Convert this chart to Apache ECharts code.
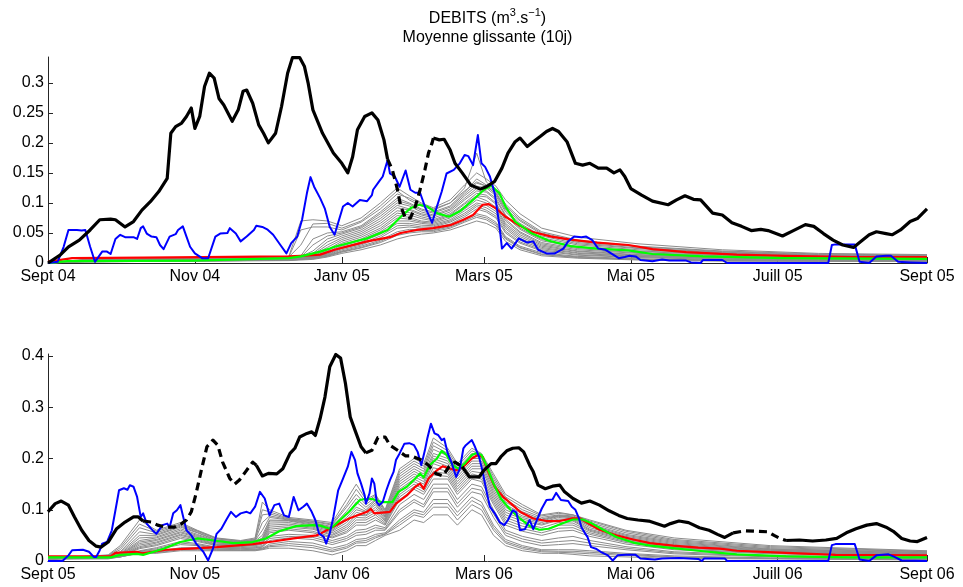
<!DOCTYPE html>
<html>
<head>
<meta charset="utf-8">
<script src="https://cdn.jsdelivr.net/npm/echarts@6/dist/echarts.min.js"></script>
<style>
  html, body { margin: 0; padding: 0; background: #ffffff; }
  #chart { width: 963px; height: 587px; }
</style>
</head>
<body>
<div id="chart"></div>
<script>
// ---- Axis ticks (days since 1 September) ----
const monthDays = [0, 61, 122, 181, 242, 303, 365];
const monthLabelsA = ['Sept 04', 'Nov 04', 'Janv 05', 'Mars 05', 'Mai 05', 'Juill 05', 'Sept 05'];
const monthLabelsB = ['Sept 05', 'Nov 05', 'Janv 06', 'Mars 06', 'Mai 06', 'Juill 06', 'Sept 06'];
const yTicksA = [0, 0.05, 0.1, 0.15, 0.2, 0.25, 0.3];
const yTicksB = [0, 0.1, 0.2, 0.3, 0.4];
const yMaxA = 0.343;
const yMaxB = 0.404;

// ---- 2004-2005: observed discharge [day, m3/s] ----
const obsA = [[0,0],[5,0.013],[8.5,0.027],[13,0.038],[17.5,0.055],[21.5,0.072],[26,0.073],[28,0.072],[32,0.06],[35.5,0.069],[39,0.088],[42.5,0.102],[46,0.119],[49.5,0.141],[51,0.216],[53,0.227],[55.5,0.233],[57.5,0.244],[59.5,0.258],[61,0.224],[63,0.244],[65,0.294],[67,0.316],[69,0.308],[71,0.274],[73,0.263],[76.5,0.236],[79,0.255],[81,0.286],[82.5,0.288],[85,0.266],[87.5,0.23],[89.5,0.216],[91.5,0.2],[94.5,0.216],[97,0.261],[99.5,0.316],[101.5,0.342],[104.5,0.342],[106.5,0.327],[108,0.3],[110,0.255],[114,0.216],[118.5,0.183],[122,0.166],[124.5,0.15],[126.5,0.177],[128.5,0.222],[131.5,0.244],[134.5,0.25],[137,0.238],[139.5,0.205],[141,0.173],
  [143,0.155],[145,0.124],[146.5,0.094],[148.5,0.074],[150.5,0.075],[152.5,0.094],[154.5,0.122],[156.5,0.155],[158,0.183],[159.5,0.2],
  [160,0.208],[162.5,0.205],[164.5,0.206],[167,0.188],[169,0.166],[172,0.15],[175.5,0.13],[179.5,0.123],[182,0.127],[185.5,0.136],[188.5,0.158],[191,0.183],[194,0.202],[196,0.208],[199,0.194],[201.5,0.202],[204.5,0.211],[207,0.219],[209.5,0.224],[212,0.219],[215.5,0.202],[219,0.166],[222,0.163],[225,0.166],[228.5,0.158],[232,0.158],[235,0.15],[237.5,0.155],[239.5,0.144],[242,0.124],[246.5,0.113],[251,0.103],[257.5,0.097],[261,0.105],[264.5,0.112],[268,0.106],[271,0.105],[276,0.083],[280,0.08],[284,0.067],[288,0.061],[292,0.054],[296,0.056],[299,0.054],[305,0.045],[309.5,0.054],[314.5,0.064],[318,0.061],[322,0.049],[326,0.038],[330,0.03],[334.5,0.026],[337,0.034],[341,0.047],[344,0.052],[348,0.049],[350.5,0.047],[354,0.055],[358,0.069],[361,0.074],[365,0.09]];
// periods without measurements (drawn dashed)
const gapsA = [[141, 160]];

// ---- 2004-2005: simulation forced by observed rain ----
const simA = [[0,0],[4,0.002],[6.5,0.027],[8.5,0.055],[12,0.055],[14,0.054],[15.5,0.055],[17.5,0.027],[19.5,0.002],[22.5,0.019],[24.5,0.019],[26,0.015],[28,0.04],[30,0.047],[32,0.043],[35.5,0.043],[37,0.04],[38.5,0.058],[39.5,0.061],[41,0.049],[43,0.044],[45,0.043],[46.5,0.03],[48,0.023],[50.5,0.044],[53,0.048],[54,0.055],[56,0.061],[57.5,0.044],[59,0.027],[61,0.016],[64,0.008],[66.5,0.008],[69.5,0.044],[71.5,0.049],[74.5,0.05],[75.5,0.058],[78,0.049],[80,0.036],[82.5,0.044],[85.5,0.055],[86.5,0.062],[89,0.06],[91,0.056],[93.5,0.047],[96.5,0.03],[99,0.016],[101,0.033],[103.5,0.044],[105.5,0.072],[107.5,0.116],[109,0.143],[110.5,0.127],[113,0.108],[115,0.09],[117,0.06],[119,0.047],[122.5,0.094],[124.5,0.1],[126.5,0.094],[129.5,0.105],[132.5,0.103],[134.5,0.113],[135,0.122],[137.5,0.136],[139,0.144],[141,0.171],[142,0.149],[144,0.144],[146,0.127],[148.5,0.154],[150.5,0.122],[152.5,0.117],[154.5,0.117],[156.5,0.094],[159.5,0.067],[161.5,0.094],[163.5,0.119],[165.5,0.149],[168.5,0.155],[171,0.166],[173,0.18],[174.5,0.178],[176.5,0.163],[178.5,0.213],[180,0.166],[181.5,0.16],[183.5,0.144],[185.5,0.116],[187.5,0.061],[188.5,0.024],[190.5,0.033],[192.5,0.024],[195.5,0.041],[199,0.034],[201.5,0.036],[203.5,0.022],[207,0.016],[210.5,0.016],[214,0.024],[216,0.036],[218.5,0.044],[221.5,0.043],[223.5,0.044],[226,0.038],[228.5,0.024],[231.5,0.022],[235,0.013],[237,0.008],[239.5,0.01],[241.5,0.012],[244,0.011],[246,0.005],[251,0.003],[255,0.006],[258,0.004],[265,0.004],[267,0.001],[271,0],[272,0.005],[280,0.005],[282,0],[324,0],[325.5,0.03],[327,0.031],[335,0.031],[337,0.002],[341,0],[344,0.011],[348,0.012],[350,0.012],[353,0.002],[358,0.001],[365,0]];

// ---- 2004-2005: ensemble mean (red) and median member (green) ----
const meanA = [[0,0.002],[10,0.008],[40,0.009],[100,0.011],[105,0.012],[113,0.014],[119,0.022],[132.5,0.036],[142,0.043],[146.5,0.05],[153,0.055],[160,0.058],[167,0.063],[172.5,0.072],[176.5,0.08],[180.5,0.097],[183,0.098],[186,0.091],[190,0.077],[195.5,0.063],[201,0.052],[209,0.044],[217,0.039],[228,0.034],[241,0.03],[251,0.023],[265,0.018],[286,0.014],[306,0.012],[334,0.01],[365,0.01]];
const medA = [[0,0],[8,0.003],[60,0.004],[100,0.008],[105,0.011],[113,0.019],[117,0.024],[119,0.027],[132.5,0.041],[141,0.055],[146.5,0.077],[150.5,0.091],[154,0.097],[157.5,0.094],[161.5,0.083],[166.5,0.077],[171,0.086],[176.5,0.105],[181,0.122],[184,0.129],[187.5,0.116],[190,0.094],[194,0.069],[201,0.049],[208,0.037],[217,0.028],[228,0.024],[241,0.021],[251,0.015],[272,0.011],[306,0.008],[365,0.007]];

// ---- 2004-2005: ensemble members (gray) on a shared day grid ----
const ensDaysA = [0, 15, 60, 100, 105, 110, 116, 122, 130, 138, 145, 150, 155, 160, 167, 173, 178, 182, 186, 190, 196, 205, 220, 245, 280, 320, 365];
const ensA1 = [0, 0.006, 0.008, 0.011, 0.07, 0.072, 0.07, 0.062, 0.075, 0.1, 0.125, 0.112, 0.1, 0.092, 0.105, 0.13, 0.15, 0.14, 0.128, 0.105, 0.082, 0.058, 0.043, 0.032, 0.022, 0.016, 0.014];
const ensA2 = [0, 0.005, 0.007, 0.01, 0.055, 0.06, 0.06, 0.055, 0.068, 0.09, 0.115, 0.108, 0.098, 0.09, 0.1, 0.125, 0.183, 0.135, 0.12, 0.098, 0.075, 0.052, 0.038, 0.028, 0.02, 0.015, 0.013];
const ensA3 = [0, 0.005, 0.007, 0.009, 0.012, 0.04, 0.05, 0.052, 0.062, 0.085, 0.108, 0.1, 0.09, 0.085, 0.095, 0.118, 0.14, 0.13, 0.118, 0.09, 0.07, 0.048, 0.034, 0.025, 0.018, 0.013, 0.012];
const ensA4 = [0, 0.004, 0.006, 0.009, 0.011, 0.02, 0.04, 0.048, 0.058, 0.078, 0.1, 0.095, 0.085, 0.08, 0.09, 0.112, 0.128, 0.125, 0.112, 0.085, 0.062, 0.042, 0.03, 0.022, 0.016, 0.012, 0.011];
const ensA5 = [0, 0.004, 0.006, 0.008, 0.01, 0.014, 0.03, 0.042, 0.052, 0.07, 0.092, 0.088, 0.08, 0.075, 0.085, 0.105, 0.12, 0.118, 0.105, 0.078, 0.056, 0.037, 0.026, 0.019, 0.014, 0.011, 0.01];
const ensA6 = [0, 0.004, 0.005, 0.008, 0.009, 0.012, 0.022, 0.036, 0.046, 0.062, 0.083, 0.08, 0.074, 0.07, 0.08, 0.098, 0.112, 0.11, 0.098, 0.07, 0.05, 0.032, 0.022, 0.016, 0.012, 0.009, 0.009];
const ensA7 = [0, 0.003, 0.005, 0.007, 0.009, 0.011, 0.018, 0.03, 0.04, 0.055, 0.075, 0.073, 0.068, 0.066, 0.075, 0.09, 0.105, 0.1, 0.09, 0.063, 0.044, 0.028, 0.019, 0.013, 0.01, 0.008, 0.008];
const ensA8 = [0, 0.003, 0.005, 0.007, 0.008, 0.01, 0.015, 0.026, 0.035, 0.048, 0.066, 0.066, 0.063, 0.062, 0.07, 0.083, 0.097, 0.092, 0.082, 0.057, 0.038, 0.024, 0.016, 0.011, 0.008, 0.006, 0.006];
const ensA9 = [0, 0.003, 0.004, 0.006, 0.007, 0.009, 0.013, 0.022, 0.03, 0.042, 0.058, 0.06, 0.058, 0.058, 0.065, 0.077, 0.09, 0.085, 0.075, 0.05, 0.033, 0.02, 0.013, 0.009, 0.006, 0.005, 0.005];
const ensA10 = [0, 0.002, 0.004, 0.005, 0.006, 0.008, 0.012, 0.02, 0.028, 0.038, 0.052, 0.056, 0.055, 0.055, 0.062, 0.072, 0.082, 0.078, 0.068, 0.044, 0.028, 0.017, 0.011, 0.007, 0.005, 0.004, 0.004];
const ensA11 = [0, 0.002, 0.003, 0.005, 0.006, 0.007, 0.011, 0.018, 0.025, 0.034, 0.046, 0.05, 0.052, 0.052, 0.058, 0.068, 0.076, 0.072, 0.062, 0.04, 0.025, 0.014, 0.009, 0.006, 0.004, 0.003, 0.003];
const ensA12 = [0, 0.002, 0.003, 0.004, 0.005, 0.006, 0.01, 0.016, 0.022, 0.03, 0.04, 0.045, 0.048, 0.05, 0.055, 0.063, 0.07, 0.066, 0.058, 0.036, 0.022, 0.012, 0.008, 0.005, 0.003, 0.003, 0.003];
const ensA13 = [0, 0.005, 0.007, 0.01, 0.03, 0.065, 0.066, 0.058, 0.07, 0.095, 0.12, 0.105, 0.095, 0.088, 0.1, 0.12, 0.135, 0.128, 0.115, 0.095, 0.072, 0.05, 0.036, 0.027, 0.019, 0.014, 0.012];
const ensA14 = [0, 0.004, 0.006, 0.009, 0.01, 0.03, 0.045, 0.05, 0.06, 0.082, 0.104, 0.098, 0.088, 0.083, 0.093, 0.115, 0.133, 0.128, 0.115, 0.088, 0.066, 0.045, 0.032, 0.024, 0.017, 0.012, 0.011];
const ensA15 = [0, 0.004, 0.006, 0.008, 0.01, 0.016, 0.035, 0.045, 0.055, 0.074, 0.096, 0.09, 0.082, 0.078, 0.088, 0.108, 0.124, 0.12, 0.108, 0.08, 0.058, 0.039, 0.027, 0.02, 0.015, 0.011, 0.01];
const ensA16 = [0, 0.004, 0.005, 0.008, 0.009, 0.013, 0.026, 0.039, 0.049, 0.066, 0.087, 0.084, 0.077, 0.072, 0.082, 0.1, 0.116, 0.113, 0.1, 0.073, 0.052, 0.034, 0.024, 0.017, 0.013, 0.01, 0.009];
const ensA17 = [0, 0.003, 0.005, 0.007, 0.008, 0.011, 0.02, 0.033, 0.043, 0.058, 0.079, 0.076, 0.07, 0.068, 0.078, 0.094, 0.11, 0.104, 0.093, 0.066, 0.047, 0.03, 0.02, 0.014, 0.011, 0.008, 0.008];
const ensA18 = [0, 0.003, 0.004, 0.006, 0.007, 0.01, 0.014, 0.024, 0.032, 0.045, 0.062, 0.063, 0.06, 0.06, 0.068, 0.08, 0.094, 0.088, 0.078, 0.053, 0.035, 0.022, 0.014, 0.01, 0.007, 0.005, 0.005];
const ensA19 = [0, 0.002, 0.003, 0.005, 0.006, 0.008, 0.012, 0.019, 0.026, 0.036, 0.049, 0.053, 0.054, 0.054, 0.06, 0.07, 0.079, 0.075, 0.065, 0.042, 0.026, 0.015, 0.01, 0.006, 0.004, 0.003, 0.003];
const ensA20 = [0, 0.003, 0.004, 0.006, 0.007, 0.009, 0.016, 0.028, 0.038, 0.052, 0.07, 0.07, 0.066, 0.064, 0.072, 0.087, 0.1, 0.096, 0.086, 0.06, 0.041, 0.026, 0.017, 0.012, 0.009, 0.007, 0.007];

// ---- 2005-2006: observed discharge ----
const obsB = [[0,0.096],[3,0.112],[5.5,0.117],[8.5,0.109],[11,0.086],[14,0.06],[17,0.04],[20,0.029],[22,0.027],[25,0.037],[28.5,0.063],[32,0.076],[35.5,0.086],[37.5,0.086],[39.5,0.078],
  [43,0.076],[45.5,0.07],[49,0.066],[52.5,0.066],[55.5,0.073],[57.5,0.08],[59.5,0.096],[61.5,0.132],[64,0.184],[66,0.223],[68.5,0.236],[70.5,0.226],[72.5,0.193],[75.5,0.161],[77.5,0.15],[79.5,0.158],[82,0.174],[85,0.193],
  [86.5,0.187],[89,0.166],[91.5,0.171],[95,0.17],[97.5,0.18],[100.5,0.21],[102.5,0.22],[104.5,0.242],[107.5,0.249],[109.5,0.252],[111,0.245],[113,0.278],[115,0.32],[117,0.379],[119.5,0.403],[121.5,0.396],[123.5,0.347],[125.5,0.281],[127.5,0.255],[130,0.223],[132,0.211],
  [134.5,0.216],[137,0.241],[140,0.242],[142,0.226],[145.5,0.215],[148.5,0.205],[151,0.205],[155,0.197],[158,0.187],[161,0.171],[164,0.166],[166.5,0.184],[169,0.193],
  [172,0.184],[175,0.164],[179,0.164],[181,0.177],[184,0.19],[186,0.19],[188,0.203],[190.5,0.215],[193,0.22],[195.5,0.221],[197.5,0.213],[200,0.187],[201.5,0.174],[203.5,0.148],[206.5,0.141],[209.5,0.146],[212.5,0.148],[214.5,0.135],[218,0.122],[221.5,0.113],[225,0.117],[229,0.109],[233,0.098],[237,0.089],[240.5,0.083],[245,0.08],[249.5,0.078],[256,0.068],[258.5,0.073],[262,0.078],[266,0.075],[270.5,0.065],[274.5,0.06],[278,0.052],[281,0.046],[284.5,0.055],
  [289.5,0.059],[294.5,0.058],[299,0.057],[301.5,0.05],[304,0.044],
  [306.5,0.04],[312,0.041],[317.5,0.039],[323,0.041],[327.5,0.044],[331.5,0.055],[335.5,0.063],[340,0.07],[344,0.073],[348,0.066],[351,0.058],[354.5,0.044],[358,0.039],[361,0.038],[363,0.042],[365,0.046]];
const gapsB = [[39.5, 86.5], [132, 172], [284.5, 306.5]];

// ---- 2005-2006: simulation forced by observed rain ----
const simB = [[0,0],[6,0],[8.5,0.011],[10,0.021],[14.5,0.022],[17,0.018],[19,0.008],[20,0.008],[21.5,0.021],[22.5,0.034],[24.5,0.037],[26.5,0.06],[28,0.099],[29.5,0.138],[31.5,0.142],[33,0.139],[34,0.148],[35.5,0.145],[37,0.125],[38.5,0.086],[39.5,0.093],[41,0.073],[44,0.057],[45,0.053],[47.5,0.07],[49.5,0.073],[50.5,0.066],[52,0.093],[53.5,0.099],[55,0.109],[56,0.089],[57.5,0.06],[59.5,0.05],[61.5,0.034],[64.5,0.018],[66.5,0.001],[68.5,0.024],[70,0.053],[72,0.063],[74,0.08],[76,0.096],[78,0.086],[80,0.093],[82.5,0.096],[84,0.093],[86,0.106],[88,0.135],[90,0.122],[92,0.089],[94,0.109],[96,0.112],[98,0.089],[100,0.086],[102,0.125],[104,0.099],[106,0.106],[107.5,0.112],[109.5,0.096],[111,0.08],[112.5,0.054],[114.5,0.047],[115.5,0.034],[117,0.054],[118.5,0.086],[120.5,0.138],[122.5,0.161],[124.5,0.184],[126,0.213],[127.5,0.197],[128.5,0.171],[130,0.151],[131.5,0.128],[132,0.112],[133.5,0.132],[134.5,0.161],[135.5,0.151],[136.5,0.115],[137.5,0.109],[139,0.115],[140.5,0.138],[142,0.158],[143.5,0.174],[144.5,0.197],[146,0.21],[148,0.229],[150,0.23],[152,0.226],[153.5,0.213],[155,0.187],[156.5,0.216],[157.5,0.239],[159,0.268],[160.5,0.249],[162,0.246],[163.5,0.236],[164.5,0.239],[166,0.21],[167.5,0.193],[169.5,0.164],[171,0.18],[172.5,0.22],[173.5,0.226],[176,0.236],[177,0.226],[179,0.203],[180.5,0.174],[182,0.138],[183.5,0.106],[185.5,0.093],[187.5,0.076],[189.5,0.07],[191,0.08],[193,0.099],[194.5,0.095],[196,0.06],[198,0.062],[200,0.08],[201.5,0.062],[203,0.08],[205,0.102],[207,0.119],[209.5,0.12],[211,0.133],[213,0.119],[216,0.117],[217.5,0.106],[219,0.1],[220.5,0.083],[221.5,0.066],[223,0.054],[224,0.047],[225.5,0.027],[227.5,0.024],[229.5,0.018],[232.5,0.011],[234.5,0.001],[236.5,0.011],[240,0.012],[244,0.012],[246,0.005],[252,0.003],[255,0.005],[262,0.006],[270,0.004],[271.5,0],[272.5,0.005],[281,0.005],[282,0],[324,0],[325.5,0.031],[327,0.033],[335,0.033],[337,0.003],[341,0],[344,0.011],[349,0.013],[351.5,0.008],[354.5,0.001],[365,0]];

// ---- 2005-2006: ensemble mean (red) and median member (green) ----
const meanB = [[0,0.009],[26,0.009],[28,0.016],[37,0.018],[39,0.015],[49,0.022],[59,0.024],[70,0.027],[85,0.033],[93.5,0.038],[102,0.044],[111.5,0.05],[113,0.053],[118,0.066],[125,0.083],[132.5,0.096],[134,0.102],[135.5,0.093],[142,0.096],[144.5,0.112],[149,0.128],[152.5,0.145],[154.5,0.151],[156,0.141],[158,0.161],[161.5,0.177],[164,0.185],[167,0.18],[169.5,0.177],[172.5,0.184],[176,0.2],[178.5,0.207],[180.5,0.203],[182.5,0.177],[185.5,0.145],[189,0.125],[193,0.109],[196,0.096],[201.5,0.083],[207,0.078],[212.5,0.078],[217.5,0.083],[221,0.083],[224.5,0.073],[229,0.061],[236,0.05],[243,0.042],[250,0.035],[259.5,0.03],[270,0.026],[279,0.024],[286,0.02],[306.5,0.016],[327,0.012],[365,0.011]];
const medB = [[0,0.007],[26,0.007],[30,0.012],[37,0.014],[39.5,0.012],[48,0.024],[55,0.037],[62,0.044],[69,0.04],[77,0.035],[85,0.037],[90.5,0.044],[96,0.058],[103,0.068],[110,0.07],[113,0.069],[117,0.063],[118.5,0.068],[125,0.096],[129.5,0.119],[131.5,0.121],[134.5,0.121],[136,0.119],[138.5,0.115],[143,0.115],[145.5,0.135],[149,0.145],[152.5,0.161],[154.5,0.171],[156,0.163],[158.5,0.187],[161.5,0.2],[163.5,0.215],[165.5,0.207],[168,0.187],[170.5,0.18],[173,0.19],[176,0.207],[178,0.211],[180,0.207],[182,0.187],[185,0.151],[188,0.122],[192,0.1],[196,0.083],[200,0.068],[204,0.061],[208,0.063],[214,0.074],[218,0.081],[222,0.081],[226,0.073],[230.5,0.061],[236,0.047],[243,0.036],[250,0.03],[259.5,0.025],[270,0.02],[279,0.016],[286,0.013],[306.5,0.009],[334,0.007],[365,0.007]];

// ---- 2005-2006: ensemble members (gray) ----
const ensDaysB = [0, 25, 30, 38, 45, 55, 62, 70, 80, 86, 89, 92, 100, 110, 118, 124, 128, 132, 136, 140, 146, 152, 156, 160, 166, 170, 176, 180, 185, 190, 197, 205, 212, 218, 225, 240, 260, 300, 365];
const ensB1 = [0.004, 0.012, 0.03, 0.08, 0.06, 0.075, 0.06, 0.045, 0.04, 0.045, 0.115, 0.1, 0.085, 0.08, 0.075, 0.12, 0.15, 0.12, 0.13, 0.1, 0.18, 0.2, 0.19, 0.24, 0.22, 0.19, 0.22, 0.21, 0.17, 0.13, 0.11, 0.09, 0.095, 0.09, 0.08, 0.06, 0.045, 0.03, 0.02];
const ensB2 = [0.004, 0.011, 0.022, 0.065, 0.055, 0.07, 0.058, 0.043, 0.038, 0.042, 0.09, 0.092, 0.082, 0.077, 0.07, 0.105, 0.13, 0.11, 0.125, 0.095, 0.17, 0.19, 0.18, 0.225, 0.21, 0.18, 0.21, 0.205, 0.16, 0.12, 0.1, 0.085, 0.09, 0.088, 0.075, 0.055, 0.04, 0.026, 0.018];
const ensB3 = [0.004, 0.01, 0.016, 0.05, 0.05, 0.066, 0.055, 0.04, 0.036, 0.04, 0.06, 0.085, 0.08, 0.074, 0.065, 0.09, 0.115, 0.1, 0.118, 0.09, 0.16, 0.18, 0.17, 0.21, 0.2, 0.17, 0.2, 0.2, 0.15, 0.11, 0.092, 0.08, 0.088, 0.085, 0.07, 0.05, 0.036, 0.023, 0.016];
const ensB4 = [0.004, 0.01, 0.013, 0.04, 0.045, 0.06, 0.05, 0.038, 0.034, 0.038, 0.045, 0.078, 0.078, 0.07, 0.06, 0.08, 0.1, 0.095, 0.11, 0.085, 0.15, 0.17, 0.16, 0.2, 0.19, 0.16, 0.19, 0.19, 0.14, 0.1, 0.085, 0.075, 0.085, 0.082, 0.065, 0.046, 0.032, 0.021, 0.014];
const ensB5 = [0.004, 0.009, 0.012, 0.034, 0.04, 0.055, 0.046, 0.035, 0.032, 0.035, 0.04, 0.07, 0.072, 0.066, 0.055, 0.07, 0.09, 0.088, 0.1, 0.08, 0.14, 0.16, 0.15, 0.19, 0.18, 0.15, 0.18, 0.18, 0.13, 0.09, 0.078, 0.07, 0.08, 0.078, 0.06, 0.042, 0.029, 0.019, 0.012];
const ensB6 = [0.004, 0.009, 0.011, 0.028, 0.035, 0.05, 0.042, 0.032, 0.03, 0.032, 0.036, 0.062, 0.066, 0.062, 0.05, 0.062, 0.08, 0.08, 0.09, 0.075, 0.13, 0.15, 0.14, 0.175, 0.17, 0.14, 0.17, 0.165, 0.12, 0.08, 0.068, 0.06, 0.07, 0.07, 0.055, 0.038, 0.026, 0.017, 0.011];
const ensB7 = [0.004, 0.008, 0.01, 0.024, 0.03, 0.044, 0.038, 0.03, 0.028, 0.03, 0.033, 0.055, 0.06, 0.055, 0.045, 0.055, 0.07, 0.07, 0.08, 0.07, 0.12, 0.14, 0.13, 0.16, 0.16, 0.13, 0.16, 0.155, 0.11, 0.07, 0.058, 0.05, 0.058, 0.06, 0.048, 0.033, 0.022, 0.014, 0.009];
const ensB8 = [0.004, 0.008, 0.009, 0.02, 0.026, 0.038, 0.034, 0.027, 0.026, 0.028, 0.03, 0.048, 0.052, 0.05, 0.04, 0.048, 0.06, 0.062, 0.07, 0.065, 0.11, 0.13, 0.12, 0.15, 0.15, 0.12, 0.15, 0.145, 0.1, 0.06, 0.048, 0.04, 0.045, 0.048, 0.04, 0.028, 0.018, 0.011, 0.007];
const ensB9 = [0.004, 0.007, 0.009, 0.018, 0.022, 0.032, 0.03, 0.025, 0.024, 0.025, 0.027, 0.04, 0.045, 0.042, 0.032, 0.04, 0.05, 0.052, 0.06, 0.06, 0.095, 0.115, 0.105, 0.135, 0.135, 0.105, 0.135, 0.13, 0.085, 0.05, 0.038, 0.03, 0.032, 0.034, 0.03, 0.022, 0.014, 0.008, 0.005];
const ensB10 = [0.004, 0.006, 0.008, 0.017, 0.018, 0.026, 0.026, 0.023, 0.022, 0.023, 0.025, 0.033, 0.038, 0.035, 0.025, 0.032, 0.042, 0.044, 0.052, 0.055, 0.08, 0.1, 0.095, 0.12, 0.12, 0.095, 0.125, 0.115, 0.07, 0.042, 0.03, 0.022, 0.022, 0.022, 0.02, 0.015, 0.01, 0.006, 0.004];
const ensB11 = [0.004, 0.005, 0.008, 0.016, 0.016, 0.022, 0.022, 0.021, 0.021, 0.021, 0.023, 0.028, 0.03, 0.026, 0.018, 0.025, 0.035, 0.036, 0.045, 0.052, 0.07, 0.09, 0.085, 0.105, 0.105, 0.08, 0.11, 0.1, 0.06, 0.035, 0.024, 0.018, 0.017, 0.016, 0.014, 0.011, 0.007, 0.005, 0.003];
const ensB12 = [0.004, 0.004, 0.008, 0.015, 0.015, 0.02, 0.02, 0.02, 0.02, 0.02, 0.022, 0.025, 0.025, 0.02, 0.012, 0.02, 0.03, 0.03, 0.04, 0.05, 0.06, 0.08, 0.075, 0.09, 0.09, 0.07, 0.1, 0.09, 0.05, 0.03, 0.02, 0.015, 0.015, 0.013, 0.01, 0.008, 0.005, 0.004, 0.002];
const ensB13 = [0.004, 0.011, 0.026, 0.072, 0.058, 0.072, 0.059, 0.044, 0.039, 0.043, 0.1, 0.096, 0.083, 0.078, 0.072, 0.11, 0.14, 0.115, 0.128, 0.098, 0.175, 0.195, 0.185, 0.232, 0.215, 0.185, 0.215, 0.208, 0.165, 0.125, 0.105, 0.088, 0.093, 0.09, 0.078, 0.058, 0.042, 0.028, 0.019];
const ensB14 = [0.004, 0.01, 0.018, 0.057, 0.052, 0.068, 0.056, 0.041, 0.037, 0.041, 0.075, 0.088, 0.081, 0.075, 0.067, 0.097, 0.122, 0.105, 0.12, 0.092, 0.165, 0.185, 0.175, 0.218, 0.205, 0.175, 0.205, 0.202, 0.155, 0.115, 0.096, 0.082, 0.089, 0.086, 0.072, 0.052, 0.038, 0.024, 0.017];
const ensB15 = [0.004, 0.01, 0.014, 0.045, 0.047, 0.063, 0.052, 0.039, 0.035, 0.039, 0.05, 0.08, 0.079, 0.072, 0.062, 0.085, 0.105, 0.097, 0.114, 0.087, 0.155, 0.175, 0.165, 0.205, 0.195, 0.165, 0.195, 0.195, 0.145, 0.105, 0.088, 0.078, 0.087, 0.084, 0.068, 0.048, 0.034, 0.022, 0.015];
const ensB16 = [0.004, 0.009, 0.012, 0.037, 0.042, 0.057, 0.048, 0.036, 0.033, 0.036, 0.042, 0.074, 0.075, 0.068, 0.058, 0.075, 0.095, 0.09, 0.105, 0.082, 0.145, 0.165, 0.155, 0.195, 0.185, 0.155, 0.185, 0.185, 0.135, 0.095, 0.082, 0.072, 0.082, 0.08, 0.062, 0.044, 0.03, 0.02, 0.013];
const ensB17 = [0.004, 0.009, 0.011, 0.031, 0.037, 0.052, 0.044, 0.033, 0.031, 0.033, 0.038, 0.066, 0.069, 0.064, 0.052, 0.066, 0.085, 0.084, 0.095, 0.078, 0.135, 0.155, 0.145, 0.182, 0.175, 0.145, 0.175, 0.172, 0.125, 0.085, 0.073, 0.065, 0.075, 0.074, 0.058, 0.04, 0.027, 0.018, 0.011];
const ensB18 = [0.004, 0.008, 0.01, 0.026, 0.032, 0.047, 0.04, 0.031, 0.029, 0.031, 0.034, 0.058, 0.063, 0.058, 0.047, 0.058, 0.075, 0.075, 0.085, 0.072, 0.125, 0.145, 0.135, 0.168, 0.165, 0.135, 0.165, 0.16, 0.115, 0.075, 0.063, 0.055, 0.064, 0.065, 0.052, 0.036, 0.024, 0.015, 0.01];
const ensB19 = [0.004, 0.007, 0.009, 0.019, 0.024, 0.035, 0.032, 0.026, 0.025, 0.026, 0.028, 0.044, 0.048, 0.046, 0.036, 0.044, 0.055, 0.057, 0.065, 0.062, 0.1, 0.12, 0.11, 0.142, 0.142, 0.112, 0.142, 0.138, 0.092, 0.055, 0.043, 0.035, 0.038, 0.04, 0.035, 0.025, 0.016, 0.009, 0.006];
const ensB20 = [0.004, 0.006, 0.008, 0.016, 0.017, 0.024, 0.024, 0.022, 0.021, 0.022, 0.024, 0.03, 0.034, 0.03, 0.021, 0.028, 0.038, 0.04, 0.048, 0.053, 0.075, 0.095, 0.09, 0.112, 0.112, 0.088, 0.118, 0.108, 0.065, 0.038, 0.027, 0.02, 0.019, 0.019, 0.017, 0.013, 0.008, 0.005, 0.003];

const ensA = [ensA1, ensA2, ensA3, ensA4, ensA5, ensA6, ensA7, ensA8, ensA9, ensA10, ensA11, ensA12, ensA13, ensA14, ensA15, ensA16, ensA17, ensA18, ensA19, ensA20];
const ensB = [ensB1, ensB2, ensB3, ensB4, ensB5, ensB6, ensB7, ensB8, ensB9, ensB10, ensB11, ensB12, ensB13, ensB14, ensB15, ensB16, ensB17, ensB18, ensB19, ensB20];

// ---- styling ----
const FONT = '"Liberation Sans", Arial, Helvetica, sans-serif';
const AXIS_COLOR = '#262626';
const COL = { obs: '#000000', sim: '#0000ff', mean: '#ff0000', med: '#00ff00', ens: '#8c8c8c' };

function lineSeries(idx, data, color, width) {
  return {
    type: 'line', xAxisIndex: idx, yAxisIndex: idx, data: data,
    symbol: 'none', silent: true, animation: false, connectNulls: false,
    lineStyle: { color: color, width: width, type: 'solid', cap: 'butt', join: 'round' }
  };
}

// observed series: solid outside the gaps, dashed inside them
function observedSeries(idx, points, gaps) {
  const inside = d => gaps.some(g => d > g[0] && d < g[1]);
  const solid = points.map(p => inside(p[0]) ? [p[0], '-'] : p);
  const out = [lineSeries(idx, solid, COL.obs, 3.2)];
  gaps.forEach(g => {
    const seg = points.filter(p => p[0] >= g[0] && p[0] <= g[1]);
    const s = lineSeries(idx, seg, COL.obs, 3.2);
    s.lineStyle.type = [8, 5];
    out.push(s);
  });
  return out;
}

function panelSeries(idx, ensDays, ens, mean, med, sim, obs, gaps) {
  const list = [];
  ens.forEach(vals => list.push(lineSeries(idx, ensDays.map((d, i) => [d, vals[i]]), COL.ens, 1)));
  list.push(lineSeries(idx, mean, COL.mean, 2.2));
  list.push(lineSeries(idx, med, COL.med, 2.2));
  list.push(lineSeries(idx, sim, COL.sim, 2));
  return list.concat(observedSeries(idx, obs, gaps));
}

function xAxis(idx, labels) {
  return {
    type: 'value', gridIndex: idx, min: 0, max: 365,
    axisLine: { show: true, onZero: false, lineStyle: { color: AXIS_COLOR, width: 1 } },
    axisTick: { show: true, inside: true, length: 6, customValues: monthDays, lineStyle: { color: AXIS_COLOR } },
    axisLabel: {
      show: true, customValues: monthDays, margin: 6,
      formatter: v => labels[monthDays.indexOf(v)],
      color: '#000', fontSize: 16, fontFamily: FONT
    },
    splitLine: { show: false }
  };
}

function yAxis(idx, max, ticks) {
  return {
    type: 'value', gridIndex: idx, min: 0, max: max,
    axisLine: { show: true, onZero: false, lineStyle: { color: AXIS_COLOR, width: 1 } },
    axisTick: { show: true, inside: true, length: 5, customValues: ticks, lineStyle: { color: AXIS_COLOR } },
    axisLabel: {
      show: true, customValues: ticks, margin: 4,
      formatter: v => String(v),
      color: '#000', fontSize: 16, fontFamily: FONT
    },
    splitLine: { show: false }
  };
}

const chart = echarts.init(document.getElementById('chart'), null, { renderer: 'canvas' });
chart.setOption({
  backgroundColor: '#ffffff',
  animation: false,
  grid: [
    { left: 48, right: 36, top: 57, bottom: 324, containLabel: false, outerBoundsMode: 'none' },
    { left: 48, right: 36, top: 354, bottom: 26, containLabel: false, outerBoundsMode: 'none' }
  ],
  xAxis: [xAxis(0, monthLabelsA), xAxis(1, monthLabelsB)],
  yAxis: [yAxis(0, yMaxA, yTicksA), yAxis(1, yMaxB, yTicksB)],
  graphic: [
    {
      type: 'text', x: 487.5, y: 19, silent: true,
      style: {
        text: '{t|DEBITS (m}{s|3}{t|.s}{s|−1}{t|)}',
        align: 'center', verticalAlign: 'middle',
        rich: {
          t: { fontSize: 16, fontFamily: FONT, fill: '#000', color: '#000' },
          s: { fontSize: 11, fontFamily: FONT, fill: '#000', color: '#000', padding: [0, 0, 12, 0] }
        }
      }
    },
    {
      type: 'text', x: 487.5, y: 38, silent: true,
      style: { text: 'Moyenne glissante (10j)', align: 'center', verticalAlign: 'middle', fontSize: 16, fontFamily: FONT, fill: '#000' }
    }
  ],
  series: panelSeries(0, ensDaysA, ensA, meanA, medA, simA, obsA, gapsA)
    .concat(panelSeries(1, ensDaysB, ensB, meanB, medB, simB, obsB, gapsB))
});
</script>
</body>
</html>
